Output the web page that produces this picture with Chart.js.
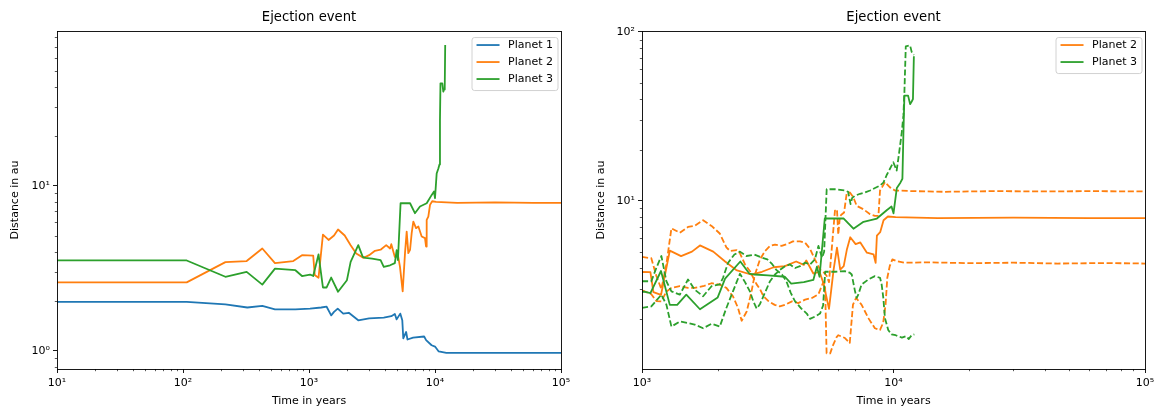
<!DOCTYPE html>
<html lang="en">
<head>
<meta charset="UTF-8">
<title>Ejection event</title>
<script src="https://cdn.jsdelivr.net/npm/chart.js@4.4.0/dist/chart.umd.min.js"></script>
<style>
  html, body { margin: 0; padding: 0; background: #fff; }
  #wrap { position: relative; width: 1159px; height: 409px; }
  canvas { position: absolute; top: 0; }
  #left { left: 0; }
  #right { left: 580px; }
</style>
</head>
<body>
<div id="wrap">
  <canvas id="left" width="580" height="409"></canvas>
  <canvas id="right" width="579" height="409"></canvas>
</div>
<script>
// ---- data (time in years, distance in au) ----
const p1Time = [10, 107, 217, 324, 426, 537, 780, 1020, 1250, 1380, 1500, 1580, 1690, 1870, 2070, 2460, 3000, 3920, 4500, 4800, 4960, 5300, 5500, 5600, 5900, 6050, 6700, 8200, 8500, 9400, 10000, 10700, 12300, 30000, 100000];
const p1Dist = [1.98, 1.98, 1.91, 1.83, 1.87, 1.78, 1.78, 1.80, 1.83, 1.85, 1.64, 1.72, 1.80, 1.68, 1.70, 1.53, 1.57, 1.59, 1.62, 1.67, 1.55, 1.68, 1.53, 1.19, 1.30, 1.17, 1.20, 1.22, 1.16, 1.08, 1.06, 0.99, 0.97, 0.97, 0.97];

const p2Time = [10, 107, 217, 320, 426, 537, 750, 880, 1080, 1110, 1190, 1290, 1430, 1580, 1700, 1920, 2140, 2370, 2710, 3000, 3340, 3700, 4100, 4400, 4500, 4800, 5080, 5270, 5540, 5780, 5960, 6140, 6340, 6530, 6730, 7070, 7380, 7840, 8330, 8490, 8590, 8850, 9130, 9500, 10200, 15000, 30000, 60000, 100000];
const p2Dist = [2.6, 2.6, 3.45, 3.5, 4.17, 3.4, 3.5, 3.8, 3.78, 2.88, 2.77, 5.07, 4.7, 5.0, 5.44, 5.0, 4.37, 3.89, 3.66, 3.8, 4.04, 4.1, 4.37, 4.17, 4.43, 3.71, 3.8, 3.24, 2.29, 3.91, 5.28, 3.91, 4.1, 5.17, 6.08, 5.54, 5.67, 4.93, 4.82, 4.29, 6.22, 6.52, 7.67, 8.07, 8.0, 7.9, 7.95, 7.9, 7.9];

const p3Time = [10, 107, 217, 320, 426, 537, 780, 880, 1020, 1080, 1190, 1290, 1380, 1500, 1700, 2000, 2140, 2460, 2670, 2800, 3170, 3700, 3920, 4400, 4800, 4960, 5080, 5330, 6340, 6930, 7600, 8590, 9420, 9820, 10000, 10310, 10650, 10850, 10950, 11050, 11430, 11640, 11800, 11950, 12050];
const p3Dist = [3.53, 3.53, 2.81, 3.01, 2.52, 3.15, 3.08, 2.84, 2.9, 2.84, 3.84, 2.42, 2.42, 2.78, 2.28, 2.68, 3.46, 4.37, 3.71, 3.66, 3.62, 3.55, 3.23, 3.3, 3.4, 4.07, 3.55, 7.85, 7.85, 6.83, 7.5, 7.85, 8.82, 9.24, 8.42, 11.9, 12.8, 13.5, 25, 41.9, 41.9, 37.3, 38.5, 40, 71.6];

// dashed orange curves (Planet 2), right panel
const p2aTime = [1000, 1089, 1140, 1194, 1250, 1309, 1413, 1524, 1620, 1750, 1890, 2038, 2165, 2240, 2380, 2450, 2568, 2688, 2771, 2857, 2946, 3040, 3190, 3370, 3530, 3700, 3950, 4180, 4450, 4740, 5030, 5259, 5344, 5420, 5600, 5750, 5940, 6036, 6412, 6700, 6900, 7100, 7460, 7943, 8433, 8840, 9100, 9300, 9450, 9660, 9900, 10250, 11000, 14000, 20000, 30000, 45000, 70000, 100000];
const p2aDist = [4.65, 4.57, 3.6, 3.0, 4.2, 6.87, 6.47, 7.0, 7.1, 7.67, 7.1, 6.4, 5.3, 5.04, 5.1, 4.9, 4.2, 3.83, 3.5, 3.2, 3.0, 2.72, 2.54, 2.42, 2.37, 2.42, 2.54, 2.48, 2.6, 2.66, 2.8, 3.3, 3.2, 1.25, 1.25, 1.4, 1.56, 1.6, 1.54, 1.44, 2.43, 2.66, 2.43, 2.02, 1.76, 1.72, 1.9, 2.43, 3.5, 4.1, 4.5, 4.4, 4.3, 4.32, 4.27, 4.3, 4.25, 4.28, 4.25];

const p2bTime = [1000, 1089, 1140, 1194, 1250, 1309, 1413, 1524, 1620, 1750, 1890, 2038, 2165, 2300, 2409, 2490, 2608, 2720, 2800, 2946, 3083, 3228, 3379, 3590, 3790, 3980, 4250, 4450, 4656, 4870, 5108, 5259, 5420, 5540, 5700, 5850, 5960, 6030, 6125, 6220, 6360, 6510, 6710, 6920, 7140, 7590, 8070, 8440, 8710, 8840, 9000, 9250, 9680, 10140, 12000, 16000, 25000, 40000, 60000, 100000];
const p2bDist = [2.95, 2.8, 2.55, 2.54, 2.9, 3.05, 3.12, 3.05, 3.05, 3.12, 3.25, 3.19, 3.05, 2.72, 2.32, 1.95, 2.21, 2.86, 3.58, 4.5, 5.04, 5.4, 5.5, 5.4, 5.55, 5.75, 5.75, 5.65, 5.2, 4.5, 3.9, 3.8, 3.6, 3.3, 5.5, 8.72, 8.9, 6.3, 8.1, 8.3, 8.52, 10.96, 11.2, 10.5, 9.33, 8.91, 8.33, 8.14, 8.14, 11.5, 12.0, 12.9, 12.0, 11.5, 11.4, 11.3, 11.4, 11.35, 11.4, 11.35];

// dashed green curves (Planet 3), right panel
const p3aTime = [1000, 1089, 1140, 1194, 1250, 1309, 1413, 1524, 1620, 1750, 1890, 2038, 2100, 2200, 2330, 2452, 2600, 2800, 3000, 3150, 3300, 3420, 3600, 3750, 3900, 4060, 4300, 4520, 4656, 4900, 5103, 5250, 5350, 5855, 6410, 6700, 6823, 7031, 7140, 7244, 7464, 7943, 8433, 8840, 8974, 9110, 9247, 9528, 9817, 10200, 10800, 11200, 11500, 11800, 12100];
const p3aDist = [3.34, 3.34, 4.0, 4.71, 3.34, 2.91, 2.78, 3.42, 2.98, 2.72, 3.12, 3.2, 3.5, 4.3, 4.81, 5.0, 4.71, 4.8, 4.6, 4.5, 4.2, 3.9, 3.66, 3.34, 2.86, 2.54, 2.3, 2.15, 2.0, 2.07, 2.15, 2.4, 3.8, 3.8, 3.83, 3.75, 3.66, 2.91, 2.66, 2.78, 3.19, 3.42, 3.58, 3.5, 3.19, 2.66, 2.02, 1.72, 1.62, 1.6, 1.55, 1.58, 1.52, 1.6, 1.62];

const p3bTime = [1000, 1089, 1194, 1250, 1309, 1413, 1524, 1620, 1750, 1890, 2038, 2165, 2300, 2452, 2568, 2688, 2771, 2857, 2946, 3083, 3228, 3379, 3538, 3704, 3877, 4060, 4249, 4450, 4656, 4870, 5030, 5200, 5300, 5424, 5855, 6410, 6600, 6750, 6850, 7025, 7362, 7708, 8070, 8440, 8838, 9117, 9397, 9839, 9982, 10294, 10450, 10620, 10790, 10950, 11050, 11190, 11640, 11810, 12060];
const p3bDist = [2.32, 2.37, 2.78, 2.43, 1.8, 1.93, 1.89, 1.85, 1.76, 1.87, 1.8, 2.32, 2.91, 3.7, 3.3, 2.9, 2.54, 2.3, 2.45, 2.86, 3.34, 3.66, 3.9, 4.1, 4.2, 4.0, 4.1, 4.3, 4.2, 4.5, 5.4, 4.6, 5.0, 11.7, 11.7, 11.5, 11.3, 9.55, 10.4, 10.7, 11.0, 11.2, 11.5, 11.9, 12.3, 12.8, 14.2, 16.2, 16.9, 15.1, 17.7, 21.2, 25.5, 32, 44, 82, 83, 76, 73];

const titleText = 'Ejection event';
const xTitle = 'Time in years';
const yTitle = 'Distance in au';

const BLUE = '#1f77b4', ORANGE = '#ff7f0e', GREEN = '#2ca02c';
const LW = 1.8;

Chart.defaults.font.family = '"DejaVu Sans", sans-serif';
Chart.defaults.font.size = 11;
Chart.defaults.color = '#000';

const pts = (t, d) => t.map((x, i) => ({ x: x, y: d[i] }));

const SUP = { '-': '\u207b', '0': '\u2070', '1': '\u00b9', '2': '\u00b2', '3': '\u00b3', '4': '\u2074', '5': '\u2075', '6': '\u2076', '7': '\u2077', '8': '\u2078', '9': '\u2079' };
function powLabel(v) {
    const e = String(Math.round(Math.log10(v)));
    return '10' + e.split('').map(c => SUP[c]).join('');
}

function decadeTicks(scale) {
    const out = [];
    const lo = Math.floor(Math.log10(scale.min)), hi = Math.ceil(Math.log10(scale.max));
    for (let e = lo; e <= hi; e++) {
        const v = Math.pow(10, e);
        if (v >= scale.min * 0.999 && v <= scale.max * 1.001) out.push({ value: v, major: true });
    }
    scale.ticks = out;
}

function line(label, t, d, color, dashed, order, inLegend) {
    return {
        label: label,
        data: pts(t, d),
        borderColor: color,
        backgroundColor: color,
        borderWidth: LW,
        borderDash: dashed ? [6.1, 2.6] : [],
        borderJoinStyle: 'round',
        pointRadius: 0,
        pointHoverRadius: 0,
        tension: 0,
        fill: false,
        order: order,
        inLegend: inLegend
    };
}

// spines + minor log ticks, drawn on top of the lines like matplotlib
const frame = {
    id: 'frame',
    afterDatasetsDraw(chart) {
        const { ctx, chartArea: a } = chart;
        ctx.save();
        ctx.strokeStyle = '#000';
        ctx.lineWidth = 0.66;
        ['x', 'y'].forEach(id => {
            const s = chart.scales[id];
            const lo = Math.floor(Math.log10(s.min)), hi = Math.ceil(Math.log10(s.max));
            for (let e = lo; e <= hi; e++) {
                for (let m = 2; m <= 9; m++) {
                    const v = m * Math.pow(10, e);
                    if (v <= s.min || v >= s.max) continue;
                    const p = Math.round(s.getPixelForValue(v)) + 0.5;
                    ctx.beginPath();
                    if (id === 'x') { ctx.moveTo(p, a.bottom); ctx.lineTo(p, a.bottom + 2.2); }
                    else { ctx.moveTo(a.left - 2.2, p); ctx.lineTo(a.left, p); }
                    ctx.stroke();
                }
            }
        });
        ctx.lineWidth = 0.9;
        ctx.strokeRect(Math.round(a.left) + 0.5, Math.round(a.top) + 0.5, Math.round(a.width), Math.round(a.height));
        ctx.restore();
    }
};

// legend box in the upper right corner of the axes
const boxLegend = {
    id: 'boxLegend',
    afterDraw(chart) {
        const { ctx, chartArea: a } = chart;
        const items = chart.data.datasets.filter(d => d.inLegend);
        ctx.save();
        ctx.font = '11px "DejaVu Sans"';
        const textW = Math.max(...items.map(d => ctx.measureText(d.label).width));
        const w = 36.5 + textW + 4.5;
        const h = 8 + 17 * (items.length - 1) + 11;
        const x = a.right - 3.5 - w, y = a.top + 6;
        ctx.beginPath();
        ctx.roundRect(x + 0.5, y + 0.5, w, h, 2.5);
        ctx.fillStyle = 'rgba(255,255,255,0.8)';
        ctx.fill();
        ctx.strokeStyle = '#cccccc';
        ctx.lineWidth = 0.9;
        ctx.stroke();
        items.forEach((d, i) => {
            const cy = y + 8 + 17 * i;
            ctx.beginPath();
            ctx.strokeStyle = d.borderColor;
            ctx.lineWidth = LW;
            ctx.moveTo(x + 5, cy);
            ctx.lineTo(x + 28, cy);
            ctx.stroke();
            ctx.fillStyle = '#000';
            ctx.textBaseline = 'middle';
            ctx.textAlign = 'left';
            ctx.fillText(d.label, x + 36.5, cy);
        });
        ctx.restore();
    }
};

function options(xMin, xMax, yMin, yMax, yWidth, yTitlePad, padRight) {
    const tickGrid = { display: true, drawOnChartArea: false, drawTicks: true, tickLength: 4, tickColor: '#000', tickWidth: 0.9 };
    return {
        responsive: false,
        animation: false,
        events: [],
        layout: { padding: { left: 0, right: padRight, top: 0, bottom: 0 } },
        plugins: {
            legend: { display: false },
            tooltip: { enabled: false },
            title: {
                display: true, text: titleText, fullSize: false,
                font: { size: 13.2, weight: 'normal' }, color: '#000',
                padding: { top: 10.1, bottom: 5.1 }
            }
        },
        scales: {
            x: {
                type: 'logarithmic', min: xMin, max: xMax, bounds: 'data',
                afterBuildTicks: decadeTicks,
                afterFit: s => { s.height = 40; },
                grid: tickGrid,
                border: { display: false },
                ticks: { autoSkip: false, maxRotation: 0, padding: 4, color: '#000', callback: v => powLabel(v) },
                title: { display: true, text: xTitle, color: '#000', padding: { top: 0, bottom: 1.4 } }
            },
            y: {
                type: 'logarithmic', min: yMin, max: yMax, bounds: 'data',
                afterBuildTicks: decadeTicks,
                afterFit: s => { s.width = yWidth; },
                grid: tickGrid,
                border: { display: false },
                ticks: { autoSkip: false, padding: 3, color: '#000', callback: v => powLabel(v) },
                title: { display: true, text: yTitle, color: '#000', padding: { top: yTitlePad, bottom: 0 } }
            }
        }
    };
}

new Chart(document.getElementById('left'), {
    type: 'line',
    data: {
        datasets: [
            line('Planet 1', p1Time, p1Dist, BLUE, false, 3, true),
            line('Planet 2', p2Time, p2Dist, ORANGE, false, 2, true),
            line('Planet 3', p3Time, p3Dist, GREEN, false, 1, true)
        ]
    },
    options: options(10, 100000, 0.775, 87, 57, 8.4, 19),
    plugins: [frame, boxLegend]
});

new Chart(document.getElementById('right'), {
    type: 'line',
    data: {
        datasets: [
            line('Planet 2', p2Time, p2Dist, ORANGE, false, 4, true),
            line('Planet 3', p3Time, p3Dist, GREEN, false, 1, true),
            line('Planet 2 outer', p2aTime, p2aDist, ORANGE, true, 5, false),
            line('Planet 2 inner', p2bTime, p2bDist, ORANGE, true, 6, false),
            line('Planet 3 outer', p3aTime, p3aDist, GREEN, true, 2, false),
            line('Planet 3 inner', p3bTime, p3bDist, GREEN, true, 3, false)
        ]
    },
    options: options(1000, 100000, 1.01, 101, 62, 14.4, 14),
    plugins: [frame, boxLegend]
});
</script>
</body>
</html>
